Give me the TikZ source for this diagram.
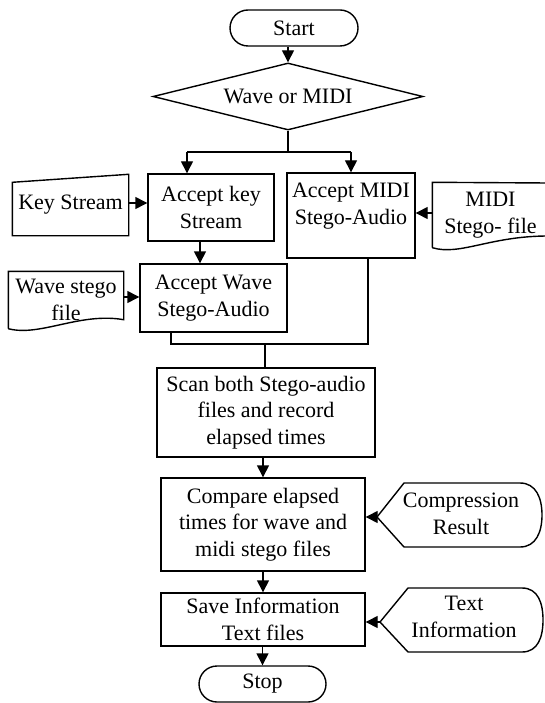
\documentclass[tikz,border=0pt]{standalone}
\usepackage{fontspec}
\setmainfont{Liberation Serif}
\usetikzlibrary{shapes.geometric,arrows.meta,calc}
\begin{document}
\begin{tikzpicture}[x=1pt,y=-1pt,
  every node/.style={font=\fontsize{22}{26.5}\selectfont, align=center, inner sep=0pt},
  line width=1.4pt,
  box/.style={draw, rectangle},
  term/.style={draw, rectangle, rounded corners=18pt},
  decbox/.style={draw, diamond, aspect=4},
  arr/.style={-{Triangle[length=12pt,width=12pt]}},
  ]
\fill[white] (0,0) rectangle (544,703);
\useasboundingbox (0,0) rectangle (544,703);

% main nodes
\node[term, minimum width=128pt, minimum height=36pt] (start) at (294,28) {Start};
\node[decbox, minimum width=270pt, minimum height=67pt] (wm) at (288,96.5) {Wave or MIDI};
\node[box, minimum width=126pt, minimum height=67pt] (key) at (211,207.5) {Accept key\\Stream};
\node[box, minimum width=128pt, minimum height=85pt] (midi) at (351,215.5) {};
\node (midit) at (351,206) {Accept MIDI\\Stego-Audio};
\node[box, minimum width=147pt, minimum height=68pt] (wave) at (213.5,298) {Accept Wave\\Stego-Audio};
\node[box, minimum width=218pt, minimum height=89pt] (scan) at (266,412.5) {Scan both Stego-audio\\files and record\\elapsed times};
\node[box, minimum width=204pt, minimum height=93pt] (cmp) at (263,524.5) {Compare elapsed\\times for wave and\\midi stego files};
\node[box, minimum width=204pt, minimum height=53pt] (save) at (263,619.5) {Save Information\\Text files};
\node[term, minimum width=127pt, minimum height=36pt] (stop) at (262.5,684) {Stop};

% side inputs / outputs
\node[minimum width=115pt, minimum height=60pt] (ks) at (70.5,205) {Key Stream};
\draw ([yshift=-8pt]ks.north west) -- (ks.north east) -- (ks.south east) -- (ks.south west) -- cycle;

\node[minimum width=115pt, minimum height=64pt] (md) at (490.5,215) {MIDI\\Stego- file};
\draw (md.south west) -- (md.north west) -- (548,183) -- (548,236)
  .. controls (490,236) and (460,256) .. (md.south west);

\node[minimum width=114pt, minimum height=56pt] (wd) at (66,300) {Wave stego\\file};
\draw (wd.south west) -- (wd.north west) -- (wd.north east) -- ([yshift=9pt]wd.south east)
  .. controls (80,312) and (40,337) .. (wd.south west);

\node (cr) at (461,514) {Compression\\Result};
\coordinate (crl) at (377,517);
\draw (crl) -- (404,483) -- (520,483) .. controls (536,483) and (542,498) .. (542,515)
  .. controls (542,532) and (536,547) .. (520,547) -- (404,547) -- cycle;

\node (ti) at (464,617) {Text\\Information};
\coordinate (til) at (380,622);
\draw (til) -- (408,588) -- (522,588) .. controls (538,588) and (543,603) .. (543,620)
  .. controls (543,637) and (538,652) .. (522,652) -- (408,652) -- cycle;

% connectors
\draw[arr] (start.south -| wm.north) -- (wm.north);
\coordinate (hb) at (0,152);
\coordinate (ka) at (187,152);
\coordinate (ma) at (351,152);
\draw (wm.south) -- (wm.south |- hb);
\draw (ka) -- (ma);
\draw[arr] (ka) -- (ka |- key.north);
\draw[arr] (ma) -- (ma |- midi.north);

\coordinate (ksa) at ([yshift=2pt]ks.east);
\draw[arr] (ksa) -- (ksa -| key.west);
\coordinate (mda) at ([yshift=2pt]md.west);
\draw[arr] (mda) -- (mda -| midi.east);
\coordinate (kw) at (200,0);
\draw[arr] (kw |- key.south) -- (kw |- wave.north);
\coordinate (wda) at ([yshift=3pt]wd.east);
\draw[arr] (wda) -- (wda -| wave.west);

\coordinate (bl) at (171,344);
\coordinate (brr) at (368,344);
\coordinate (bj) at (265,344);
\draw (bl |- wave.south) -- (bl) -- (brr) -- (brr |- midi.south);
\draw (bj) -- (bj |- scan.north);

\draw[arr] (scan.south -| cmp.north) -- (cmp.north);
\draw[arr] (cmp.south) -- (save.north);
\draw[arr] (save.south -| stop.north) -- (stop.north);
\draw[arr] (crl) -- (crl -| cmp.east);
\draw[arr] (til) -- (til -| save.east);
\end{tikzpicture}
\end{document}
